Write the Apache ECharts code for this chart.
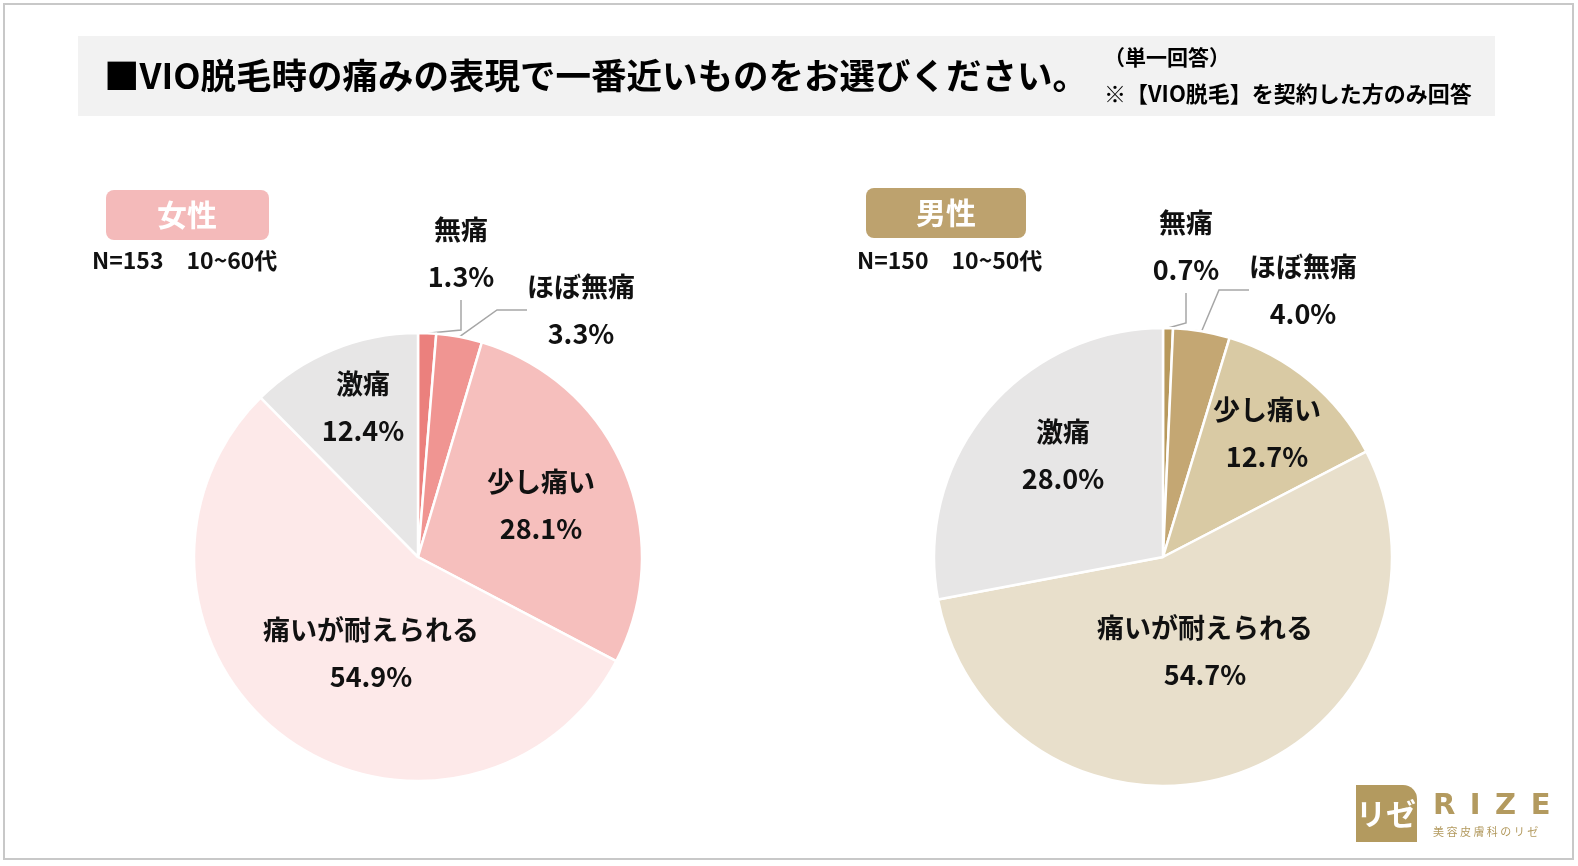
<!DOCTYPE html>
<html>
<head>
<meta charset="utf-8">
<script src="https://cdn.jsdelivr.net/npm/echarts@6/dist/echarts.min.js"></script>
<style>
html,body{margin:0;padding:0;background:#fff;overflow:hidden;}
#c{width:1578px;height:866px;}
</style>
</head>
<body>
<div id="c"></div>
<script>
// ---- data ----
const categories = ['無痛', 'ほぼ無痛', '少し痛い', '痛いが耐えられる', '激痛'];
const femaleValues = [1.3, 3.3, 28.1, 54.9, 12.4];
const maleValues = [0.7, 4.0, 12.7, 54.7, 28.0];
const femaleSample = 'N=153　10~60代';
const maleSample = 'N=150　10~50代';
const titleText = '■VIO脱毛時の痛みの表現で一番近いものをお選びください。';
const noteLines = ['（単一回答）', '※【VIO脱毛】を契約した方のみ回答'];

// ---- styles / layout ----
const FONT = '"Noto Sans CJK JP", "Noto Sans", sans-serif';
const femaleColors = ['#EB807D', '#F09592', '#F6BFBD', '#FDE9E9', '#E7E6E6'];
const maleColors = ['#B8995C', '#C4A773', '#D9CAA4', '#E8DFCB', '#E7E6E6'];
const femaleLabelPos = [[461, 253], [581, 310], [541, 505], [371, 653], [363, 407]];
const maleLabelPos = [[1186, 246], [1303, 290], [1267, 433], [1205, 651], [1063, 455]];
const outsideIdx = [0, 1];

function buildData(values, colors) {
  return values.map((v, i) => ({
    name: categories[i],
    value: v,
    itemStyle: { color: colors[i] },
    label: { position: outsideIdx.includes(i) ? 'outside' : 'inside' },
    labelLine: { show: outsideIdx.includes(i) }
  }));
}

function pieSeries(values, colors, center, radius, labelPos) {
  return {
    type: 'pie',
    center: center,
    radius: radius,
    startAngle: 90,
    clockwise: true,
    avoidLabelOverlap: false,
    emphasis: { disabled: true },
    itemStyle: { borderColor: '#ffffff', borderWidth: 2.5 },
    label: {
      show: true,
      formatter: p => p.name + '\n' + p.value.toFixed(1) + '%',
      fontFamily: FONT,
      fontSize: 27,
      fontWeight: 'bold',
      color: '#111',
      lineHeight: 47,
      align: 'center'
    },
    labelLine: {
      show: false,
      lineStyle: { color: '#A6A6A6', width: 1.5 },
      smooth: false
    },
    labelLayout: function (params) {
      const pos = labelPos[params.dataIndex];
      return { x: pos[0], y: pos[1], align: 'center', verticalAlign: 'middle' };
    },
    data: buildData(values, colors)
  };
}

const chart = echarts.init(document.getElementById('c'));
chart.setOption({
  backgroundColor: '#ffffff',
  animation: false,
  graphic: [
    { type: 'rect', shape: { x: 4, y: 4, width: 1569, height: 855 }, style: { fill: 'none', stroke: '#C8C8C8', lineWidth: 2 }, z: 0 },
    { type: 'rect', shape: { x: 78, y: 36, width: 1417, height: 80 }, style: { fill: '#F2F2F2' }, z: 0 },
    { type: 'text', x: 104, y: 76, style: { text: titleText, font: 'bold 35.5px ' + FONT, fill: '#000', textVerticalAlign: 'middle' }, z: 5 },
    { type: 'text', x: 1104, y: 57, style: { text: noteLines[0], font: 'bold 21px ' + FONT, fill: '#000', textVerticalAlign: 'middle' }, z: 5 },
    { type: 'text', x: 1104, y: 94, style: { text: noteLines[1], font: 'bold 22px ' + FONT, fill: '#000', textVerticalAlign: 'middle' }, z: 5 },
    // badges
    { type: 'rect', shape: { x: 106, y: 190, width: 163, height: 50, r: 8 }, style: { fill: '#F4BABA' }, z: 1 },
    { type: 'text', x: 187, y: 215, style: { text: '女性', font: 'bold 30px ' + FONT, fill: '#fff', textAlign: 'center', textVerticalAlign: 'middle' }, z: 5 },
    { type: 'rect', shape: { x: 866, y: 188, width: 160, height: 50, r: 8 }, style: { fill: '#BDA26E' }, z: 1 },
    { type: 'text', x: 946, y: 213, style: { text: '男性', font: 'bold 30px ' + FONT, fill: '#fff', textAlign: 'center', textVerticalAlign: 'middle' }, z: 5 },
    { type: 'text', x: 92, y: 260, style: { text: femaleSample, font: 'bold 23px ' + FONT, fill: '#111', textVerticalAlign: 'middle' }, z: 5 },
    { type: 'text', x: 857, y: 260, style: { text: maleSample, font: 'bold 23px ' + FONT, fill: '#111', textVerticalAlign: 'middle' }, z: 5 },
    // logo
    { type: 'rect', shape: { x: 1356, y: 785, width: 61, height: 57, r: [0, 14, 0, 0] }, style: { fill: '#B39A5F' }, z: 1 },
    { type: 'text', x: 1386, y: 814, style: { text: 'リゼ', font: 'bold 30px ' + FONT, fill: '#fff', textAlign: 'center', textVerticalAlign: 'middle' }, z: 5 },
    { type: 'text', x: 1433, y: 806, style: { text: 'R\u2002I\u2002Z\u2002E', font: 'bold 29px "DejaVu Sans", sans-serif', fill: '#B39A5F', textVerticalAlign: 'middle' }, z: 5 },
    { type: 'text', x: 1433, y: 832, style: { text: '美 容 皮 膚 科 の リ ゼ', font: '11px ' + FONT, fill: '#B39A5F', textVerticalAlign: 'middle' }, z: 5 }
  ],
  series: [
    pieSeries(femaleValues, femaleColors, [418, 557], 224, femaleLabelPos),
    pieSeries(maleValues, maleColors, [1163, 557], 229, maleLabelPos)
  ]
});
</script>
</body>
</html>
